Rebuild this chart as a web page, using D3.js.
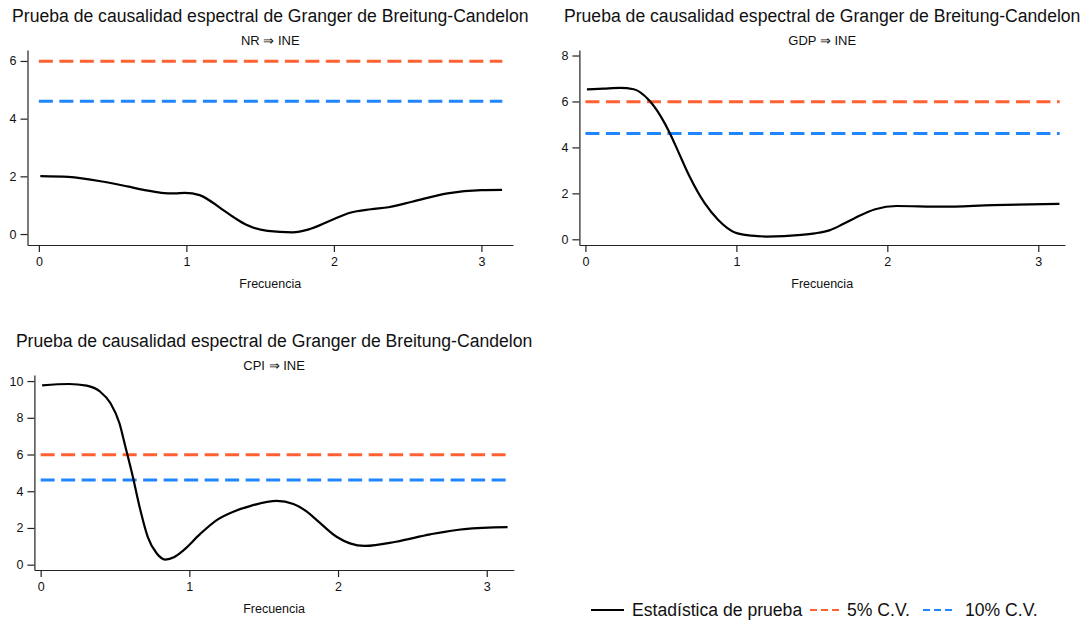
<!DOCTYPE html>
<html>
<head>
<meta charset="utf-8">
<script src="https://cdn.jsdelivr.net/npm/d3@7"></script>
<style>
  body { margin: 0; background: #fff; }
  svg { display: block; font-family: "Liberation Sans", Arial, sans-serif; }
</style>
</head>
<body>
<svg id="chart" width="1087" height="623"></svg>
<script>
const titleText = 'Prueba de causalidad espectral de Granger de Breitung-Candelon';
const xLabel = 'Frecuencia';
const xTicks = [0, 1, 2, 3];

// critical values (chi2 with 2 df)
const cv5 = 5.99;
const cv10 = 4.605;
const freqRange = [0, Math.PI];

// [frecuencia, estadistica]
const nrStat = [[0.01,2.01],[0.2,1.98],[0.43,1.82],[0.6,1.65],[0.71,1.53],[0.83,1.43],[0.92,1.41],[0.99,1.43],[1.09,1.35],[1.17,1.12],[1.25,0.83],[1.33,0.55],[1.41,0.31],[1.55,0.11],[1.72,0.06],[1.83,0.16],[1.97,0.45],[2.11,0.74],[2.25,0.86],[2.37,0.93],[2.53,1.12],[2.77,1.41],[3.0,1.52],[3.14,1.53]];
const gdpStat = [[0.01,6.53],[0.12,6.56],[0.23,6.59],[0.32,6.53],[0.42,6.06],[0.50,5.34],[0.56,4.61],[0.62,3.74],[0.69,2.73],[0.79,1.57],[0.88,0.84],[0.99,0.30],[1.1,0.16],[1.20,0.12],[1.43,0.19],[1.52,0.26],[1.62,0.40],[1.70,0.64],[1.78,0.91],[1.92,1.31],[2.06,1.45],[2.36,1.42],[2.70,1.49],[3.14,1.54]];
const cpiStat = [[0.01,9.77],[0.19,9.84],[0.31,9.75],[0.40,9.42],[0.47,8.79],[0.53,7.70],[0.57,6.42],[0.62,4.79],[0.665,3.16],[0.72,1.52],[0.78,0.62],[0.837,0.28],[0.90,0.42],[0.96,0.78],[1.07,1.65],[1.184,2.43],[1.30,2.90],[1.408,3.19],[1.588,3.47],[1.70,3.30],[1.79,2.89],[1.857,2.43],[1.99,1.52],[2.08,1.16],[2.18,1.02],[2.39,1.25],[2.62,1.65],[2.85,1.94],[3.14,2.04]];

const nrTicks = [0, 2, 4, 6];
const gdpTicks = [0, 2, 4, 6, 8];
const cpiTicks = [0, 2, 4, 6, 8, 10];

const legendLabels = ['Estadística de prueba', '5% C.V.', '10% C.V.'];

const colors = { stat: '#000000', cv5: '#ff6133', cv10: '#1f86ff' };

const svg = d3.select('#chart');

function drawPanel(p) {
    const x = d3.scaleLinear().domain(p.xDomain).range([p.left, p.right]);
    const y = d3.scaleLinear().domain(p.yDomain).range([p.bottom, p.top]);
    const g = svg.append('g');
    const cx = (p.left + p.right) / 2;

    g.append('text').attr('x', cx).attr('y', p.top - 28).attr('text-anchor', 'middle')
        .attr('font-size', 17.6).attr('fill', '#111').text(titleText);
    g.append('text').attr('x', cx).attr('y', p.top - 5).attr('text-anchor', 'middle')
        .attr('font-size', 13).attr('fill', '#111').text(p.subtitle);

    const xAxis = g.append('g').attr('transform', `translate(0,${p.bottom})`)
        .call(d3.axisBottom(x).tickValues(xTicks).tickFormat(d3.format('d'))
            .tickSize(7).tickPadding(5).tickSizeOuter(0));
    const yAxis = g.append('g').attr('transform', `translate(${p.left},0)`)
        .call(d3.axisLeft(y).tickValues(p.yTicks).tickFormat(d3.format('d'))
            .tickSize(7).tickPadding(4).tickSizeOuter(0));
    [xAxis, yAxis].forEach(a => {
        a.select('.domain').attr('stroke', '#222').attr('stroke-width', 1.2);
        a.selectAll('.tick line').attr('stroke', '#222').attr('stroke-width', 1.2);
        a.selectAll('.tick text').attr('font-size', 12.5).attr('fill', '#111')
            .attr('font-family', '"Liberation Sans", Arial, sans-serif');
    });

    g.append('text').attr('x', cx).attr('y', p.bottom + 43).attr('text-anchor', 'middle')
        .attr('font-size', 12.5).attr('fill', '#111').text(xLabel);

    [[cv5, colors.cv5], [cv10, colors.cv10]].forEach(([v, c]) => {
        g.append('line')
            .attr('x1', x(freqRange[0])).attr('x2', x(freqRange[1]))
            .attr('y1', y(v)).attr('y2', y(v))
            .attr('stroke', c).attr('stroke-width', 3)
            .attr('stroke-dasharray', '14,6.5');
    });

    const line = d3.line().x(d => x(d[0])).y(d => y(d[1])).curve(d3.curveMonotoneX);
    g.append('path').datum(p.data).attr('d', line)
        .attr('fill', 'none').attr('stroke', colors.stat).attr('stroke-width', 2.2)
        .attr('stroke-linejoin', 'round');
}

drawPanel({ subtitle: 'NR ⇒ INE', data: nrStat, yTicks: nrTicks,
    left: 27.5, right: 513, top: 50, bottom: 245, xDomain: [-0.077, 3.214], yDomain: [-0.38, 6.38] });
drawPanel({ subtitle: 'GDP ⇒ INE', data: gdpStat, yTicks: gdpTicks,
    left: 579.4, right: 1065, top: 50, bottom: 245, xDomain: [-0.04, 3.177], yDomain: [-0.248, 8.24] });
drawPanel({ subtitle: 'CPI ⇒ INE', data: cpiStat, yTicks: cpiTicks,
    left: 34.4, right: 513.8, top: 375, bottom: 570, xDomain: [-0.042, 3.182], yDomain: [-0.29, 10.33] });

// legend
const legend = svg.append('g').attr('transform', 'translate(0,610)');
const legendItems = [
    { label: legendLabels[0], color: colors.stat, dash: null, x: 591, tx: 632 },
    { label: legendLabels[1], color: colors.cv5, dash: '7,4,7,4,7,4,1,4', x: 810, tx: 847 },
    { label: legendLabels[2], color: colors.cv10, dash: '7,4,7,4,7,4,1,4', x: 923, tx: 965 }
];
legendItems.forEach(it => {
    legend.append('line').attr('x1', it.x).attr('x2', it.x + 33).attr('y1', 0).attr('y2', 0)
        .attr('stroke', it.color).attr('stroke-width', 2)
        .attr('stroke-dasharray', it.dash);
    legend.append('text').attr('x', it.tx).attr('y', 6)
        .attr('font-size', 17.6).attr('fill', '#111').text(it.label);
});
</script>
</body>
</html>
